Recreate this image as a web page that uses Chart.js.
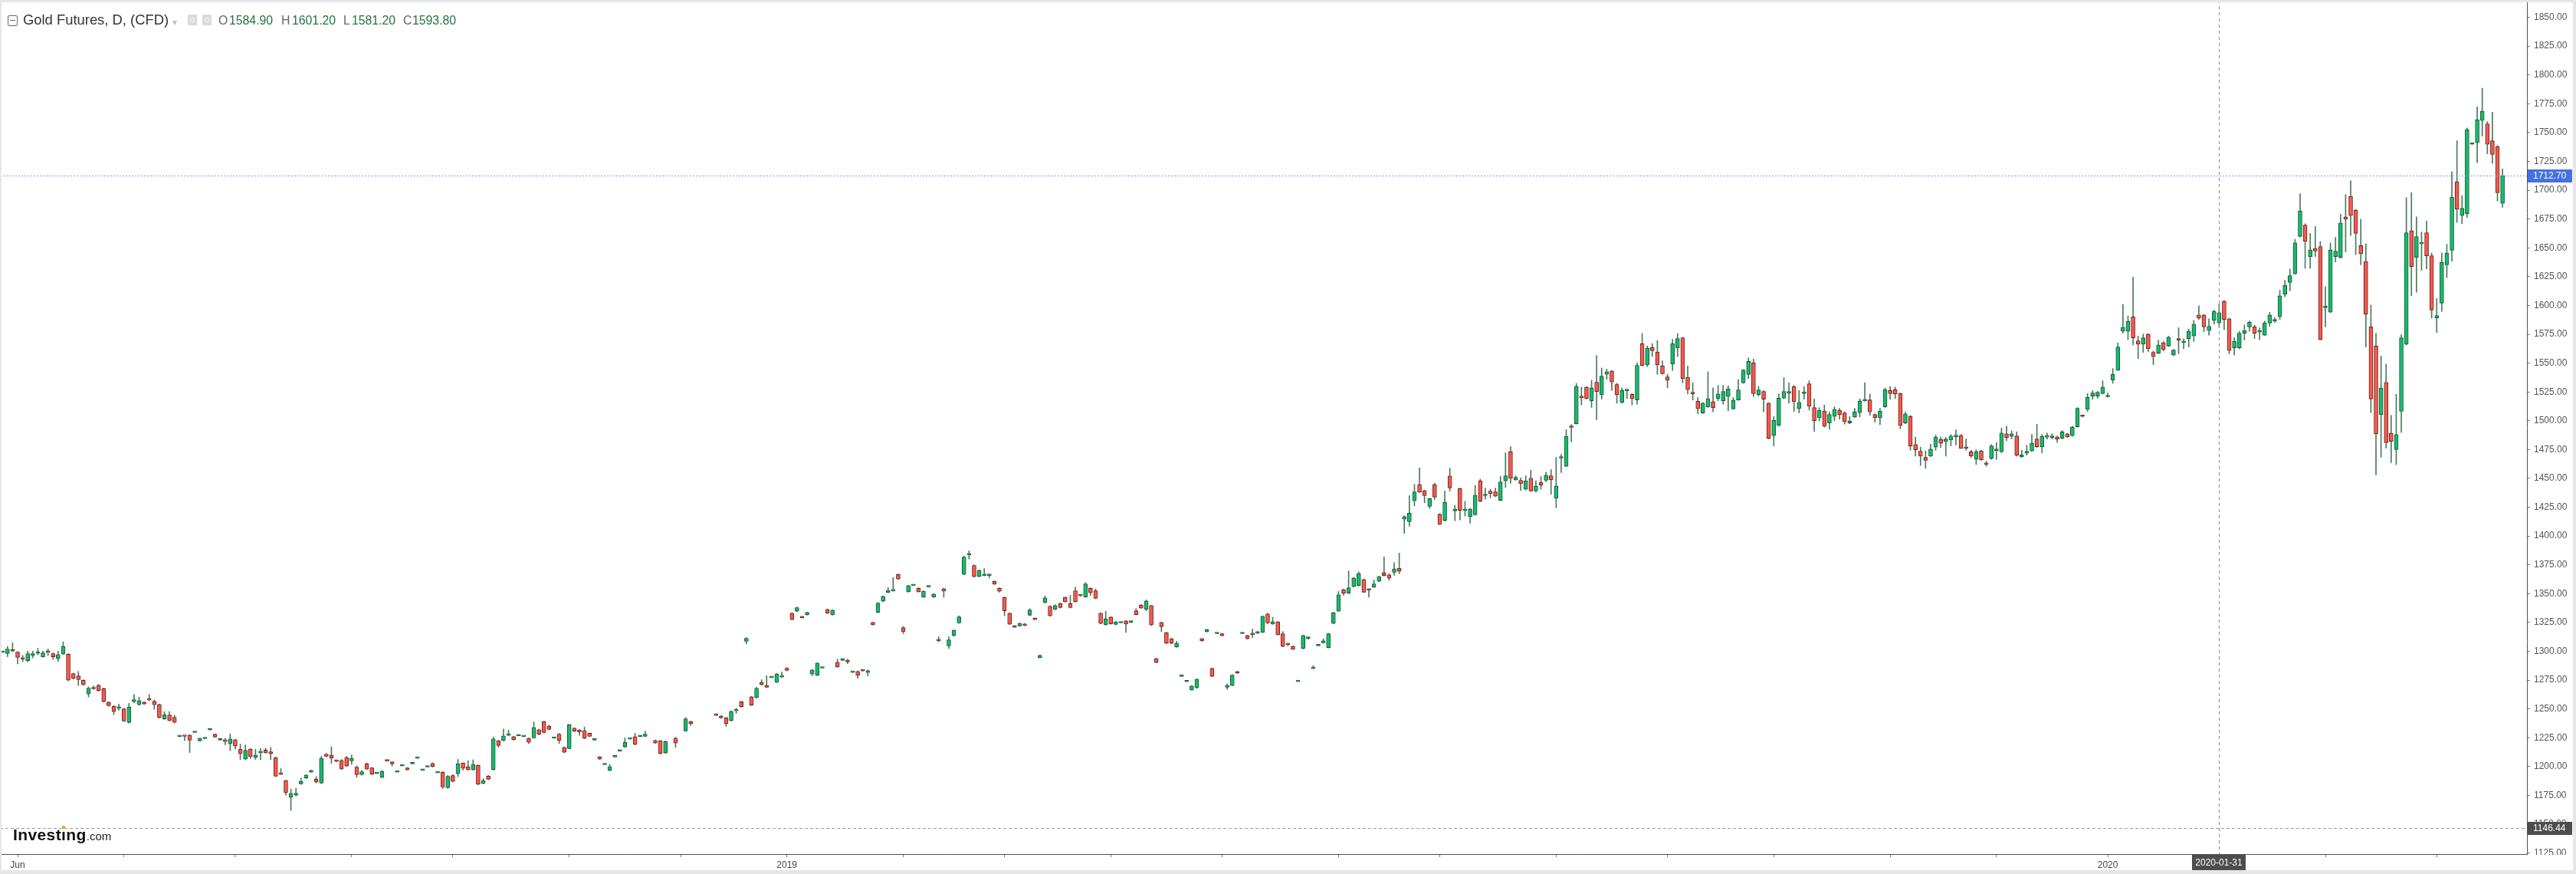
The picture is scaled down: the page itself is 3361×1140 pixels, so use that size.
<!DOCTYPE html>
<html>
<head>
<meta charset="utf-8">
<title>Gold Futures, D, (CFD)</title>
<script src="https://cdn.jsdelivr.net/npm/chart.js@4.4.1/dist/chart.umd.min.js"></script>
<style>
html, body { margin: 0; padding: 0; background: #fff; }
#wrap { position: relative; width: 3361px; height: 1140px; overflow: hidden; font-family: "Liberation Sans", Arial, sans-serif; }
#chart { position: absolute; left: 0; top: 0; }
.t { position: absolute; white-space: nowrap; line-height: 1; }
.title { font-size: 18.4px; color: #333; top: 17px; }
.k { font-size: 15.8px; color: #666; top: 19px; }
.v { font-size: 15.8px; color: #26723f; top: 19px; }
.collapse { position: absolute; left: 10px; top: 20px; width: 11px; height: 12px; border: 1px solid #666; border-radius: 2px; }
.collapse::after { content: ""; position: absolute; left: 2px; right: 2px; top: 5px; height: 1px; background: #666; }
.drop { font-size: 12px; color: #bbb; top: 23px; left: 225px; }
.btn { position: absolute; top: 19px; width: 12px; height: 14px; background: #dadada; border-radius: 1px; }
.btn i { position: absolute; left: 3px; top: 4px; width: 4px; height: 4px; border: 1px solid #fff; border-radius: 50%; }
.logo { left: 17px; top: 1078px; font-size: 21px; font-weight: bold; color: #111; letter-spacing: 0.4px; }
.logo .com { font-size: 15px; font-weight: normal; color: #222; letter-spacing: 0; }
.idot { position: relative; }
.idot::after { content: ""; position: absolute; left: 1px; top: 0px; width: 4px; height: 4px; background: #f5a623; }
</style>
</head>
<body>
<div id="wrap">
  <canvas id="chart" width="3361" height="1140"></canvas>
  <div class="collapse"></div>
  <span class="t title" style="left:30px">Gold Futures, D, (CFD)</span>
  <span class="t drop">▾</span>
  <div class="btn" style="left:245px"><i></i></div>
  <div class="btn" style="left:264px"><i></i></div>
  <span class="t k" style="left:285px">O</span><span class="t v" id="vO" style="left:299px"></span>
  <span class="t k" style="left:367px">H</span><span class="t v" id="vH" style="left:381px"></span>
  <span class="t k" style="left:448px">L</span><span class="t v" id="vL" style="left:459px"></span>
  <span class="t k" style="left:526px">C</span><span class="t v" id="vC" style="left:538px"></span>
  <div class="t logo">Invest<span class="idot">ı</span>ng<span class="com">.com</span></div>
</div>
<script>
// daily candles, one slot per weekday starting 2018-05-29; null = no data
const opens = [
  1299.1,1298.0,1301.3,1299.3,1294.0,1292.0,1296.4,1298.2,1295.3,1299.8,
  1298.0,1293.6,1297.5,1297.5,1280.7,1278.7,1274.9,1263.0,1268.7,1270.5,
  1267.6,1255.9,1252.3,1250.6,1250.1,1238.2,1256.3,1253.7,1255.9,1258.3,
  1256.8,1253.9,1241.3,1244.8,1242.8,1226.0,1226.6,1227.3,1229.5,1222.2,
  1224.2,1231.7,1228.2,1222.9,1223.3,1220.0,1223.3,1215.1,1206.7,1215.1,
  1208.2,1212.0,1214.4,1212.9,1207.8,1193.8,1187.9,1173.4,1175.2,1185.0,
  1190.1,1195.2,1189.0,1185.6,1210.7,1210.0,1205.4,1205.4,1207.8,1204.9,
  1199.6,1193.0,1202.3,1198.9,1193.8,1190.7,1205.4,1204.0,1195.2,1200.5,
  1198.9,1202.3,1207.1,1196.7,1199.6,1202.7,1194.5,1195.2,1181.6,1192.3,
  1193.8,1203.2,1199.7,1197.2,1201.2,1185.5,1191.7,1197.4,1222.3,1222.7,
  1227.1,1226.0,1226.7,1226.0,1224.5,1224.9,1232.0,1239.1,1234.9,1224.5,
  1228.2,1216.7,1215.6,1233.3,1231.6,1231.1,1228.9,1222.9,1208.5,1201.6,
  1196.6,1208.3,1213.4,1217.0,1223.8,1226.0,1226.0,1226.2,null,1222.7,
  1222.3,1211.8,null,1224.7,null,1230.9,1239.1,null,null,null,
  null,1245.5,1243.7,1242.2,1239.8,1248.4,1256.2,1308.7,1260.6,1259.9,
  1272.8,1269.9,1277.2,1273.2,1277.7,1285.4,1333.1,1334.8,1330.2,1331.7,
  1280.3,1279.2,1285.4,1336.4,1331.7,1290.5,1292.1,1292.1,1281.6,1282.5,
  1283.9,1281.6,1325.0,1333.7,1343.4,1351.0,1352.3,1366.7,1320.6,1351.6,
  1357.0,1354.7,1347.2,1355.8,1347.2,1310.4,1354.3,1304.7,1313.5,1324.6,
  1366.7,1383.5,1374.5,1364.9,1365.6,1365.8,1360.7,1354.7,1346.8,1333.0,
  1321.9,1322.0,1323.5,1331.3,1328.6,1294.5,1342.3,1339.0,1336.3,1341.4,
  1346.8,1341.4,1352.5,1349.0,1347.2,1354.7,1352.5,1333.0,1323.0,1329.7,
  1323.3,1324.6,1326.4,1325.2,1335.2,1340.1,1336.3,1339.7,1293.6,1325.0,
  1316.2,1310.9,1303.8,1278.1,1273.6,1266.5,1268.3,1310.9,1317.1,1285.2,
  1315.3,1315.3,1268.8,1270.3,1282.5,1315.3,1313.7,1315.3,1315.7,1316.6,
  1332.4,1323.7,1325.5,1315.3,1306.2,1304.3,1273.7,1302.5,1311.2,1285.0,
  1304.7,1307.4,1303.2,1324.2,1334.9,1353.5,1350.4,1356.1,1357.0,1362.3,
  1353.9,1355.7,1360.8,1367.9,1366.3,1368.5,1371.9,1414.6,1412.4,1430.6,
  1444.8,1439.4,1425.7,1444.8,1419.0,1413.3,1452.1,1421.7,1441.2,1422.2,
  1416.8,1418.4,1447.9,1435.0,1439.0,1438.3,1431.0,1447.9,1473.3,1448.7,
  1448.3,1440.6,1450.1,1439.0,1446.5,1448.3,1452.3,1432.8,1467.6,1460.5,
  1494.9,1497.5,1521.4,1529.2,1517.4,1533.4,1522.5,1540.3,1543.2,1531.4,
  1515.9,1526.1,1523.0,1518.1,1566.9,1548.5,1563.5,1559.6,1547.6,1538.1,
  1549.1,1563.1,1571.9,1537.8,1524.8,1517.0,1506.8,1512.1,1516.5,1519.2,
  1517.4,1521.0,1510.3,1518.1,1532.9,1540.2,1550.2,1522.7,1525.4,1515.2,
  1487.1,1495.9,1519.6,1524.1,1529.8,1510.8,1523.6,1532.0,1511.4,1502.6,
  1508.5,1498.1,1503.7,1509.2,1506.8,1498.1,1503.2,1507.0,1517.2,1518.1,
  1505.4,1502.6,1512.1,1526.3,1527.0,1523.6,1498.1,1503.7,1479.3,1473.5,
  1468.2,1469.3,1477.1,1483.7,1482.0,1483.3,1486.2,1487.1,1476.6,1473.1,
  1466.5,1473.8,1463.3,1467.1,1474.2,1473.1,1488.6,1486.4,1486.8,1468.7,
  1471.8,1473.8,1484.2,1477.5,1485.8,1485.5,1486.0,1484.8,1488.6,1487.1,
  1494.8,1504.4,1509.9,1521.4,1521.4,1523.6,1520.8,1535.4,1543.9,1577.8,
  1577.6,1590.2,1569.3,1566.4,1575.2,1559.3,1558.6,1567.6,1564.8,1556.9,
  1570.5,1567.8,1571.2,1573.5,1591.8,1591.8,1578.3,1587.1,1584.9,1603.7,
  1588.5,1563.3,1563.3,1575.9,1581.4,1581.4,1576.9,1574.3,1584.7,1586.6,
  1590.2,1609.9,1619.9,1627.5,1659.8,1669.7,1642.4,1649.5,1651.2,1598.0,
  1594.2,1642.4,1641.7,1676.9,1694.7,1682.8,1651.9,1638.1,1581.4,1564.8,
  1505.4,1533.2,1489.2,1475.0,1508.2,1566.4,1665.0,1641.7,1653.4,1663.1,
  1643.1,1589.0,1602.0,1635.3,1647.9,1707.2,1678.0,1679.7,1739.8,1741.4,
  1760.5,1757.6,1742.9,1738.1,1688.7
];
const highs = [
  1299.1,1304.2,1307.5,1299.8,1296.4,1300.2,1300.2,1302.6,1300.2,1302.0,
  1298.7,1300.2,1308.2,1298.0,1281.1,1282.5,1275.4,1269.2,1269.8,1271.4,
  1268.1,1256.3,1252.8,1254.3,1250.6,1254.8,1262.5,1260.3,1256.3,1262.5,
  1257.7,1254.3,1247.7,1247.7,1244.4,1226.0,1226.6,1227.7,1229.5,1224.8,
  1224.2,1231.7,1228.4,1222.9,1224.4,1228.4,1223.7,1219.5,1218.9,1215.6,
  1215.1,1215.6,1216.0,1216.7,1208.2,1198.3,1188.3,1180.5,1181.2,1190.1,
  1192.9,1197.1,1191.2,1208.9,1211.6,1217.3,1205.8,1206.2,1208.9,1210.0,
  1200.5,1196.7,1203.2,1199.4,1193.8,1196.6,1205.4,1204.4,1195.2,1200.5,
  1199.2,1202.3,1207.1,1196.7,1199.6,1203.3,1194.5,1195.6,1192.3,1193.0,
  1206.2,1203.2,1205.0,1205.9,1201.6,1189.5,1192.3,1225.6,1222.7,1232.7,
  1231.6,1226.5,1226.7,1226.0,1224.9,1238.7,1232.5,1239.5,1236.0,1224.5,
  1228.9,1217.2,1236.7,1233.8,1232.2,1234.4,1229.2,1222.9,1208.8,1201.6,
  1201.9,1208.3,1213.4,1224.9,1223.8,1228.9,1226.0,1230.7,null,1223.1,
  1222.7,1222.3,null,1225.4,null,1242.6,1239.5,null,null,null,
  null,1245.8,1244.4,1242.6,1248.4,1250.6,1256.6,1312.0,1261.0,1268.8,
  1275.4,1278.8,1277.2,1281.0,1282.1,1286.0,1333.6,1338.3,1330.5,1334.1,
  1284.3,1290.2,1285.4,1336.8,1336.1,1293.2,1292.1,1293.2,1281.6,1283.2,
  1284.2,1283.9,1325.4,1342.3,1348.0,1355.2,1364.0,1367.1,1321.5,1357.4,
  1357.0,1355.1,1352.5,1355.8,1350.0,1312.6,1354.7,1312.6,1318.6,1330.8,
  1382.7,1387.1,1375.1,1370.7,1371.8,1366.2,1361.1,1355.1,1347.2,1333.4,
  1322.2,1324.6,1324.2,1337.0,1329.0,1296.9,1348.1,1339.7,1340.6,1341.8,
  1347.2,1348.5,1355.6,1349.4,1359.6,1355.1,1354.1,1333.4,1334.8,1330.1,
  1325.9,1324.6,1326.8,1326.3,1337.0,1340.5,1344.6,1340.1,1294.0,1325.4,
  1316.6,1311.3,1308.7,1278.1,1273.6,1270.3,1276.2,1311.3,1319.2,1285.6,
  1315.3,1315.7,1271.9,1279.8,1282.9,1315.3,1314.1,1319.3,1317.5,1330.8,
  1333.0,1329.5,1325.9,1317.1,1306.9,1304.7,1273.7,1314.2,1312.3,1287.6,
  1304.7,1310.9,1315.7,1334.0,1351.9,1354.0,1369.6,1364.2,1369.0,1362.7,
  1354.3,1361.9,1365.2,1381.8,1367.4,1377.0,1385.2,1417.7,1435.0,1444.8,
  1459.0,1439.8,1432.8,1445.7,1419.4,1439.0,1459.0,1426.6,1441.7,1430.1,
  1424.0,1443.9,1449.4,1441.7,1440.6,1441.7,1451.6,1472.2,1477.6,1452.3,
  1450.5,1452.3,1457.2,1447.9,1451.6,1455.4,1457.6,1468.3,1470.9,1492.2,
  1496.6,1532.5,1529.2,1529.6,1535.2,1556.5,1545.8,1544.7,1543.6,1532.5,
  1528.5,1527.0,1523.6,1550.2,1575.7,1564.9,1566.9,1569.7,1552.0,1540.3,
  1570.6,1575.7,1572.4,1547.6,1533.0,1520.3,1516.0,1542.5,1528.5,1530.7,
  1530.7,1530.2,1520.3,1535.8,1544.4,1554.6,1553.5,1529.8,1526.3,1515.6,
  1503.7,1523.2,1537.4,1532.9,1530.7,1526.3,1529.8,1534.7,1518.7,1511.4,
  1513.6,1507.7,1512.1,1510.8,1507.7,1503.7,1510.8,1519.2,1532.9,1523.2,
  1506.0,1510.8,1528.5,1529.8,1529.2,1524.1,1507.7,1504.8,1485.9,1477.1,
  1473.8,1479.7,1487.7,1485.9,1485.5,1488.2,1492.1,1488.2,1484.2,1474.4,
  1474.9,1474.4,1464.9,1479.3,1481.1,1493.7,1495.3,1491.3,1490.4,1474.4,
  1478.9,1488.2,1497.0,1488.2,1489.3,1488.8,1486.6,1491.5,1489.1,1495.3,
  1511.4,1504.8,1523.6,1526.3,1525.4,1534.7,1524.1,1545.3,1567.6,1600.9,
  1590.9,1624.6,1573.5,1575.2,1575.7,1560.5,1570.0,1568.8,1573.5,1562.0,
  1580.7,1571.2,1579.5,1587.1,1599.7,1592.3,1588.5,1596.1,1601.2,1604.4,
  1589.0,1571.9,1577.6,1583.0,1586.6,1583.0,1580.7,1586.6,1594.2,1589.4,
  1613.2,1621.8,1631.7,1657.4,1697.0,1670.9,1662.6,1668.5,1655.5,1616.3,
  1654.3,1659.0,1679.2,1696.3,1708.2,1683.3,1674.9,1653.6,1600.4,1575.9,
  1556.2,1549.1,1504.7,1523.0,1574.7,1693.5,1697.8,1676.9,1663.8,1673.3,
  1645.5,1606.1,1645.5,1653.1,1716.0,1742.9,1695.4,1754.0,1739.8,1772.3,
  1788.5,1759.5,1767.6,1738.6,1718.4
];
const lows = [
  1299.1,1295.3,1299.8,1289.1,1290.9,1290.9,1294.2,1296.9,1294.9,1296.4,
  1293.1,1291.3,1297.1,1274.5,1275.8,1270.3,1270.5,1260.3,1267.0,1265.4,
  1255.9,1252.3,1245.0,1248.8,1239.0,1237.7,1255.4,1253.2,1253.9,1257.2,
  1249.7,1242.1,1240.8,1239.5,1237.7,1226.0,1222.6,1212.2,1229.5,1222.2,
  1224.2,1231.7,1225.3,1222.9,1218.9,1213.8,1215.1,1206.2,1205.6,1207.1,
  1206.2,1206.2,1211.6,1206.2,1191.2,1193.0,1175.2,1161.9,1174.6,1184.5,
  1189.4,1194.8,1185.6,1185.2,1208.4,1202.7,1204.1,1197.4,1200.0,1201.8,
  1190.7,1192.5,1197.4,1193.0,1193.8,1190.2,1204.8,1200.5,1195.2,1200.5,
  1196.8,1202.3,1207.1,1196.7,1199.6,1199.6,1194.5,1181.0,1181.0,1186.7,
  1191.2,1196.8,1196.8,1196.8,1184.1,1185.0,1188.6,1196.8,1216.7,1222.3,
  1226.7,1222.9,1226.7,1226.0,1220.0,1224.5,1227.6,1229.1,1231.8,1224.5,
  1220.0,1212.0,1215.2,1230.3,1227.1,1224.0,1225.9,1222.9,1206.2,1201.6,
  1196.1,1208.3,1213.4,1216.7,1223.8,1218.7,1226.0,1225.8,null,1220.1,
  1210.8,1211.4,null,1216.7,null,1230.5,1235.6,null,null,null,
  null,1244.1,1241.5,1234.9,1239.4,1246.2,1251.5,1306.5,1252.9,1259.5,
  1270.6,1268.4,1277.2,1272.8,1277.2,1283.0,1327.1,1334.4,1328.8,1331.3,
  1278.8,1278.8,1285.4,1332.7,1331.3,1286.1,1292.1,1289.2,1281.6,1276.5,
  1282.6,1278.8,1322.6,1333.3,1343.0,1350.8,1352.1,1362.3,1315.3,1351.2,
  1357.0,1351.2,1346.8,1355.8,1346.8,1308.2,1346.8,1302.4,1313.1,1324.2,
  1366.3,1380.0,1364.3,1364.5,1365.4,1363.6,1357.9,1351.2,1330.8,1323.1,
  1320.5,1321.6,1322.0,1330.8,1327.1,1294.1,1341.9,1330.4,1335.9,1337.5,
  1342.6,1337.5,1342.6,1347.7,1346.8,1348.5,1345.5,1323.8,1322.6,1323.5,
  1322.9,1324.6,1316.4,1324.8,1331.5,1337.1,1335.2,1322.4,1289.9,1317.1,
  1306.5,1306.5,1303.4,1278.1,1273.6,1266.1,1267.9,1308.7,1316.7,1277.9,
  1315.3,1313.1,1267.0,1269.9,1280.8,1315.3,1310.5,1312.0,1315.3,1316.2,
  1323.7,1323.3,1314.0,1303.8,1304.7,1301.4,1273.7,1302.1,1310.5,1284.8,
  1304.7,1306.9,1302.8,1323.8,1334.5,1348.6,1350.0,1355.7,1356.6,1350.9,
  1347.0,1355.3,1360.4,1365.3,1361.5,1365.9,1367.4,1402.2,1408.4,1426.2,
  1437.7,1428.8,1424.0,1431.7,1409.8,1412.9,1439.0,1413.3,1414.0,1417.3,
  1411.1,1417.9,1429.7,1432.1,1433.2,1434.2,1430.6,1442.1,1445.7,1448.3,
  1439.4,1439.9,1438.6,1438.3,1440.6,1447.0,1436.1,1424.4,1455.0,1460.1,
  1481.6,1497.1,1513.7,1518.8,1511.5,1501.0,1518.8,1535.8,1526.3,1515.2,
  1515.2,1519.2,1513.7,1514.3,1547.6,1546.9,1555.8,1540.3,1540.3,1528.5,
  1543.6,1555.8,1533.0,1523.2,1518.1,1505.9,1506.3,1511.7,1507.7,1517.4,
  1514.3,1508.5,1509.9,1517.7,1532.5,1536.5,1521.0,1521.4,1507.7,1484.2,
  1478.2,1495.3,1519.2,1515.2,1508.1,1506.8,1518.7,1509.2,1490.8,1499.7,
  1494.4,1492.6,1500.1,1501.5,1497.0,1497.4,1502.8,1503.2,1516.9,1504.8,
  1498.8,1496.6,1511.7,1518.7,1519.2,1493.0,1497.4,1474.4,1469.3,1461.1,
  1458.9,1468.9,1474.4,1476.6,1469.3,1478.2,1478.9,1475.8,1474.4,1468.2,
  1462.0,1465.6,1460.5,1466.5,1466.4,1472.2,1482.6,1484.2,1469.3,1468.2,
  1470.0,1473.1,1476.9,1472.2,1484.2,1484.2,1481.1,1484.2,1485.5,1486.4,
  1494.4,1503.3,1508.1,1518.7,1519.6,1523.2,1520.6,1532.5,1543.4,1575.9,
  1570.4,1565.7,1553.8,1559.3,1560.0,1548.6,1558.1,1560.5,1564.3,1556.4,
  1558.1,1562.4,1564.0,1568.8,1587.8,1577.1,1574.3,1583.8,1581.2,1579.0,
  1558.1,1556.9,1562.4,1570.0,1577.6,1571.2,1570.5,1573.8,1581.9,1585.4,
  1587.8,1607.5,1612.7,1627.0,1659.3,1632.2,1632.2,1642.4,1570.0,1581.4,
  1593.7,1637.7,1640.8,1646.4,1660.7,1644.1,1635.3,1564.0,1507.0,1453.1,
  1468.3,1476.2,1463.6,1461.9,1489.7,1565.7,1608.4,1611.5,1630.5,1631.7,
  1589.0,1576.6,1594.9,1624.1,1638.4,1672.1,1670.9,1676.4,1739.8,1723.9,
  1746.9,1731.5,1723.2,1690.6,1685.2
];
const closes = [
  1299.1,1302.0,1300.2,1294.7,1293.1,1298.0,1298.0,1299.1,1298.7,1299.1,
  1295.3,1297.1,1304.2,1274.9,1276.5,1275.4,1271.0,1268.1,1267.4,1265.9,
  1256.3,1252.8,1247.7,1251.7,1239.5,1251.5,1258.1,1257.2,1254.3,1257.7,
  1253.7,1242.6,1245.0,1239.9,1238.4,1226.0,1226.2,1222.9,1229.5,1224.4,
  1224.2,1231.7,1225.5,1222.9,1221.8,1224.0,1217.8,1211.1,1214.2,1208.5,
  1210.0,1212.9,1212.0,1211.1,1191.6,1193.2,1177.4,1176.8,1176.8,1187.2,
  1192.7,1196.7,1186.7,1207.1,1208.9,1207.4,1204.5,1197.8,1200.5,1207.1,
  1193.0,1195.6,1197.8,1193.4,1193.8,1196.1,1204.8,1202.3,1195.2,1200.5,
  1197.2,1202.3,1207.1,1196.7,1199.6,1200.0,1194.5,1182.3,1191.6,1187.2,
  1202.3,1198.5,1197.2,1201.9,1184.6,1187.9,1189.0,1224.0,1218.3,1226.7,
  1227.8,1223.4,1226.7,1226.0,1221.1,1234.0,1228.0,1229.6,1232.2,1224.5,
  1222.7,1212.5,1236.2,1230.7,1230.0,1224.5,1226.2,1222.9,1206.5,1201.6,
  1200.1,1208.3,1213.4,1220.9,1223.8,1219.2,1226.0,1228.2,null,1220.5,
  1211.2,1221.6,null,1220.5,null,1241.5,1237.3,null,null,null,
  null,1244.4,1242.4,1237.3,1248.0,1249.7,1252.0,1311.3,1253.3,1267.9,
  1271.0,1268.8,1277.2,1280.3,1278.8,1283.4,1327.5,1337.9,1329.1,1333.7,
  1283.9,1289.8,1285.4,1333.1,1335.7,1286.5,1292.1,1290.7,1281.6,1279.2,
  1283.0,1283.2,1323.0,1341.9,1347.6,1352.7,1353.4,1362.7,1317.1,1357.0,
  1357.0,1351.6,1352.1,1355.8,1349.6,1309.1,1352.3,1310.0,1318.2,1329.9,
  1381.8,1384.9,1364.7,1370.3,1366.7,1365.8,1358.3,1352.1,1335.2,1323.5,
  1320.8,1324.2,1322.4,1335.9,1327.5,1296.5,1346.3,1330.8,1339.7,1337.9,
  1343.0,1337.9,1343.0,1348.1,1358.5,1350.7,1345.9,1324.2,1328.1,1323.9,
  1325.5,1324.6,1323.7,1325.9,1331.9,1337.5,1343.7,1322.8,1290.5,1321.3,
  1306.9,1306.9,1306.9,1278.1,1273.6,1269.9,1275.8,1309.1,1318.8,1278.3,
  1315.3,1313.5,1270.1,1279.4,1281.2,1315.3,1310.9,1314.4,1317.1,1330.4,
  1324.6,1325.7,1314.4,1304.2,1305.8,1301.8,1273.7,1313.8,1311.6,1285.2,
  1304.7,1309.1,1315.3,1333.5,1349.0,1350.4,1355.2,1363.7,1367.4,1351.3,
  1353.0,1358.5,1364.8,1365.7,1363.4,1371.4,1369.4,1416.8,1419.9,1438.3,
  1438.1,1435.0,1432.4,1433.7,1410.2,1429.3,1441.7,1423.3,1422.2,1422.8,
  1423.5,1435.4,1430.1,1435.9,1436.8,1434.6,1446.9,1452.3,1450.1,1451.0,
  1445.4,1447.9,1439.0,1443.4,1444.3,1452.7,1448.7,1443.4,1468.9,1486.4,
  1494.2,1529.9,1519.9,1519.2,1528.5,1525.4,1538.7,1542.5,1533.6,1522.5,
  1526.3,1526.5,1519.2,1548.0,1548.0,1562.9,1560.7,1548.5,1540.9,1535.2,
  1566.9,1571.3,1536.5,1527.0,1523.4,1510.4,1515.2,1519.2,1511.4,1523.2,
  1525.4,1527.6,1517.9,1526.7,1544.0,1551.5,1523.6,1526.7,1518.7,1484.8,
  1500.3,1519.6,1525.4,1524.5,1516.5,1515.9,1524.5,1512.5,1500.1,1509.2,
  1495.3,1505.4,1509.9,1505.4,1499.2,1499.7,1507.7,1517.0,1517.6,1507.7,
  1502.6,1508.5,1527.0,1523.6,1523.2,1495.9,1505.9,1478.2,1474.9,1469.3,
  1465.6,1475.3,1485.9,1480.4,1484.2,1486.6,1486.6,1476.0,1476.0,1469.3,
  1473.1,1466.0,1462.0,1478.2,1474.6,1489.3,1485.5,1488.6,1470.0,1470.4,
  1473.5,1480.6,1477.5,1486.4,1486.2,1486.4,1484.2,1490.4,1486.0,1494.4,
  1510.8,1503.7,1520.3,1524.1,1524.7,1529.2,1521.2,1540.2,1564.0,1581.1,
  1586.1,1571.9,1566.4,1571.9,1562.4,1555.7,1565.7,1561.7,1572.4,1561.4,
  1570.0,1568.8,1577.6,1583.8,1589.0,1581.4,1581.9,1594.9,1593.8,1587.8,
  1561.0,1568.8,1575.9,1578.3,1585.4,1575.9,1577.3,1584.7,1591.8,1587.8,
  1608.4,1617.4,1625.8,1654.3,1682.1,1655.5,1648.3,1647.2,1570.5,1599.4,
  1648.3,1647.2,1671.6,1675.0,1678.0,1662.6,1644.8,1592.5,1518.9,1488.8,
  1528.4,1480.9,1482.1,1488.0,1571.9,1663.1,1633.6,1659.8,1653.8,1643.1,
  1596.1,1591.3,1637.4,1645.5,1694.0,1683.5,1684.4,1752.4,1739.8,1761.2,
  1768.3,1739.8,1731.0,1697.8,1712.7
];

// x axis: first weekday of each month (slot index) and the labels shown under them
const monthSlots  = [3, 24, 46, 69, 89, 112, 134, 155, 178, 198, 219, 241, 264, 284, 307, 329, 350, 373, 394, 416, 439, 459, 481];
const monthLabels = ['Jun', '', '', '', '', '', '', '2019', '', '', '', '', '', '', '', '', '', '', '', '2020', '', '', ''];

// y axis ticks
const priceTicks = [1125, 1150, 1175, 1200, 1225, 1250, 1275, 1300, 1325, 1350, 1375, 1400, 1425, 1450, 1475,
  1500, 1525, 1550, 1575, 1600, 1625, 1650, 1675, 1700, 1725, 1750, 1775, 1800, 1825, 1850];

// markers
const lastPrice = 1712.70;
const lowMark = 1146.44;
const crossIdx = 438;
const crossLabel = '2020-01-31';

const upFill = '#14bc6e', upLine = '#1f5535';
const downFill = '#f45a4f', downLine = '#6c221c';
const wickColor = '#4a7a5c';

// header shows the candle under the crosshair
document.getElementById('vO').textContent = opens[crossIdx].toFixed(2);
document.getElementById('vH').textContent = highs[crossIdx].toFixed(2);
document.getElementById('vL').textContent = lows[crossIdx].toFixed(2);
document.getElementById('vC').textContent = closes[crossIdx].toFixed(2);

const bodies = [];
const wicks = [];
for (let i = 0; i < opens.length; i++) {
  if (opens[i] === null) continue;
  bodies.push({x: i, y: [opens[i], closes[i]], up: closes[i] >= opens[i]});
  wicks.push({x: i, y: [lows[i], highs[i]]});
}

const overlay = {
  id: 'overlay',
  afterDatasetsDraw(chart) {
    const {ctx, chartArea: a, scales: {x, y}} = chart;
    ctx.save();
    ctx.beginPath();
    ctx.rect(a.left, a.top, a.right - a.left, a.bottom - a.top);
    ctx.clip();
    ctx.lineWidth = 1;

    // low marker
    let ly = Math.round(y.getPixelForValue(lowMark)) + 0.5;
    ctx.strokeStyle = '#9c9c9c';
    ctx.setLineDash([4, 3]);
    ctx.beginPath(); ctx.moveTo(a.left, ly); ctx.lineTo(a.right, ly); ctx.stroke();

    // crosshair
    let cx = Math.round(x.getPixelForValue(crossIdx)) + 0.5;
    ctx.strokeStyle = '#8c8c8c';
    ctx.setLineDash([4, 4]);
    ctx.beginPath(); ctx.moveTo(cx, a.top); ctx.lineTo(cx, a.bottom); ctx.stroke();

    // last price line
    let py = Math.round(y.getPixelForValue(lastPrice)) + 0.5;
    ctx.strokeStyle = '#7d9cf0';
    ctx.setLineDash([2, 2]);
    ctx.beginPath(); ctx.moveTo(a.left, py); ctx.lineTo(a.right, py); ctx.stroke();
    ctx.restore();
  },
  afterDraw(chart) {
    const {ctx, chartArea: a, scales: {x, y}, width, height} = chart;
    ctx.save();
    // hide the price label that runs below the axis
    ctx.fillStyle = '#fff';
    ctx.fillRect(a.right + 1, a.bottom + 1, width - a.right, height - a.bottom);

    ctx.font = '12px "Liberation Sans", Arial, sans-serif';
    ctx.textBaseline = 'middle';

    function tag(val, fill) {
      const ty = Math.round(y.getPixelForValue(val));
      ctx.fillStyle = fill;
      ctx.fillRect(a.right + 1, ty - 8, 58, 17);
      ctx.fillStyle = '#fff';
      ctx.textAlign = 'left';
      ctx.fillText(val.toFixed(2), a.right + 8, ty + 1);
    }
    tag(lastPrice, '#4470e3');
    tag(lowMark, '#4d4d4d');

    // crosshair date tag
    const cx = Math.round(x.getPixelForValue(crossIdx));
    ctx.fillStyle = '#4d4d4d';
    ctx.fillRect(cx - 35, a.bottom + 1, 70, 20);
    ctx.fillStyle = '#fff';
    ctx.textAlign = 'center';
    ctx.fillText(crossLabel, cx, a.bottom + 12);

    // page frame strips
    ctx.fillStyle = '#e6e6ea';
    ctx.fillRect(0, height - 5, width, 5);
    ctx.fillRect(0, 0, width, 3);
    ctx.fillRect(0, 0, 2, height);
    ctx.fillRect(width - 4, 0, 4, height);
    ctx.restore();
  }
};

Chart.defaults.font.family = '"Liberation Sans", Arial, sans-serif';
Chart.defaults.font.size = 12;

const chart = new Chart(document.getElementById('chart'), {
  type: 'bar',
  data: {
    datasets: [
      {
        label: 'body',
        data: bodies,
        backgroundColor: c => (c.raw && !c.raw.up) ? downFill : upFill,
        borderColor: c => (c.raw && !c.raw.up) ? downLine : upLine,
        borderWidth: 1,
        borderSkipped: false,
        barThickness: 5,
        minBarLength: 2,
        grouped: false,
        order: 0
      },
      {
        label: 'wick',
        data: wicks,
        backgroundColor: wickColor,
        borderWidth: 0,
        barThickness: 1,
        minBarLength: 1,
        grouped: false,
        order: 1
      }
    ]
  },
  options: {
    responsive: false,
    devicePixelRatio: 1,
    animation: false,
    events: [],
    layout: {padding: 0},
    plugins: {legend: {display: false}, tooltip: {enabled: false}},
    scales: {
      x: {
        type: 'linear',
        offset: false,
        min: -0.4846,
        max: 498.83,
        afterBuildTicks: s => { s.ticks = monthSlots.map(v => ({value: v})); },
        afterFit: s => { s.height = 26; s.paddingLeft = 0; s.paddingRight = 0; },
        ticks: {
          autoSkip: false,
          maxRotation: 0,
          minRotation: 0,
          padding: 3,
          color: '#444',
          font: {size: 12},
          callback: v => monthLabels[monthSlots.indexOf(v)] || ''
        },
        grid: {drawOnChartArea: false, drawTicks: true, tickLength: 4, color: '#777', offset: false},
        border: {display: true, color: '#505050', width: 1}
      },
      y: {
        position: 'right',
        min: 1124.1,
        max: 1865.0,
        afterBuildTicks: s => { s.ticks = priceTicks.map(v => ({value: v})); },
        afterFit: s => { s.width = 64; s.paddingTop = 0; s.paddingBottom = 0; },
        ticks: {
          padding: 5,
          color: '#555',
          font: {size: 12},
          callback: v => Number(v).toFixed(2)
        },
        grid: {drawOnChartArea: false, drawTicks: true, tickLength: 4, color: '#777'},
        border: {display: true, color: '#505050', width: 1}
      }
    }
  },
  plugins: [overlay]
});
</script>
</body>
</html>
